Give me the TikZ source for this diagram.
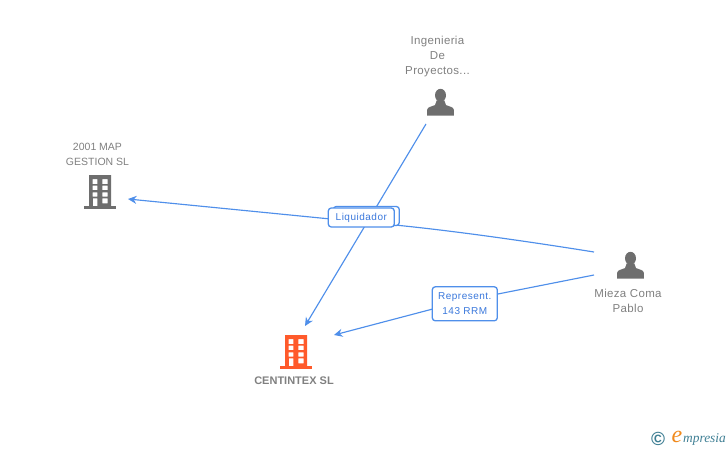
\documentclass[tikz,border=0pt]{standalone}
\usepackage{fontspec}
\setmainfont{Liberation Sans}
\newfontfamily\namefont[LetterSpace=3]{Liberation Sans}
\newfontfamily\tagfont[LetterSpace=5]{Liberation Sans}
\newfontfamily\logofont{Liberation Serif}
\usetikzlibrary{arrows.meta}

\definecolor{linkblue}{HTML}{4F8FEA}
\definecolor{tagblue}{HTML}{3A78DC}
\definecolor{namegray}{HTML}{808080}
\definecolor{icongray}{HTML}{6E6E6E}
\definecolor{iconorange}{HTML}{FF5A2B}
\definecolor{logoteal}{HTML}{3F7F94}
\definecolor{logoorange}{HTML}{F08A1D}

\tikzset{
    link/.style={draw=linkblue, line width=1.15pt, -{Stealth[length=8.5pt, width=8pt]}},
    tagbox/.style={draw=linkblue, line width=1.3pt, rounded corners=3pt, fill=white, text=tagblue,
        align=center, inner sep=0pt, font=\tagfont\fontsize{10}{15}\selectfont},
    nametext/.style={text=namegray, align=center, inner sep=0pt, font=\namefont\fontsize{11.5}{15}\selectfont},
    building/.pic={
        \fill[#1, even odd rule] (-11,-17) rectangle (11,15)
            (-7.5,-13) rectangle (-2.7,-8) (2.3,-13) rectangle (7.7,-8)
            (-7.5,-6.3) rectangle (-2.7,-2) (2.3,-6.3) rectangle (7.7,-2)
            (-7.5,0.3) rectangle (-2.7,4.7) (2.3,0.3) rectangle (7.7,4.7)
            (-7.2,6.3) rectangle (-2.7,15) (2.3,6.3) rectangle (7.7,11.3);
        \fill[#1] (-16,14) rectangle (16,17);
    },
    person/.pic={
        \fill[icongray] (0,-7) ellipse (5.5 and 6.5);
        \fill[icongray] (-13.3,13.4) -- (-13.3,7.5) .. controls (-13,4.5) and (-9,4.3) .. (-5.5,2.8)
            -- (-3.8,-2) -- (3.8,-2) -- (5.5,2.8) .. controls (9,4.3) and (13,4.5) .. (13.3,7.5) -- (13.3,13.4) -- cycle;
    }
}

\begin{document}
\begin{tikzpicture}[x=1pt, y=-1pt]
    \useasboundingbox (0,0) rectangle (728,450);

    % icons
    \node (ingenieria) at (440.5,102.3) {};
    \node (map) at (100,192) {};
    \node (centintex) at (296,352) {};
    \node (mieza) at (630.5,265.3) {};
    \pic at (ingenieria) {person};
    \pic at (map) {building=icongray};
    \pic at (centintex) {building=iconorange};
    \pic at (mieza) {person};

    % names
    \node[nametext] (ingenieriaName) at (437.5,56.5) {Ingenieria\\De\\Proyectos...};
    \node[nametext, font=\fontsize{10.5}{15}\selectfont] (mapName) at (97.5,154) {2001 MAP\\GESTION SL};
    \node[nametext, font=\bfseries\fontsize{11}{15}\selectfont] (centintexName) at (294,380.5) {CENTINTEX SL};
    \node[nametext] (miezaName) at (628,300.5) {Mieza Coma\\Pablo};

    % connector ends
    \coordinate (ingenieriaEnd) at (426,124);
    \coordinate (centintexTop) at (305,326);
    \coordinate (centintexSide) at (334,335);
    \coordinate (mapEnd) at (128,199);
    \coordinate (miezaUpper) at (594,252);
    \coordinate (miezaLower) at (594,275);
    \coordinate (liquidadorMid) at (361,222);
    \coordinate (representMid) at (465,300.5);

    % connectors
    \draw[link] (ingenieriaEnd) -- (centintexTop);
    \draw[link] (miezaUpper) .. controls (500,237) and (420,226.5) .. (liquidadorMid) -- (mapEnd);
    \draw[link] (miezaLower) -- (representMid) -- (centintexSide);

    % tags
    \node[tagbox, minimum width=66pt, minimum height=19pt] (liquidadorBack) at (366.3,216) {};
    \node[tagbox, minimum width=66pt, minimum height=19pt] (liquidador) at (361.3,217.5) {\raisebox{-0.5pt}{Liquidador}};
    \node[tagbox, minimum width=65pt, minimum height=34pt] (represent) at (464.8,303.8) {Represent.\\143 RRM};

    % logo
    \node[text=logoteal, inner sep=0pt, font=\bfseries\fontsize{19}{19}\selectfont] (logoMark) at (658,439) {\textcopyright};
    \node[text=logoorange, inner sep=0pt, font=\logofont\itshape\fontsize{24}{24}\selectfont] (logoE) at (677,436.5) {e};
    \node[text=logoteal, inner sep=0pt, anchor=base west, font=\logofont\itshape\fontsize{13.4}{14}\selectfont] (logoText) at (683,442.5) {mpresia};
\end{tikzpicture}
\end{document}
